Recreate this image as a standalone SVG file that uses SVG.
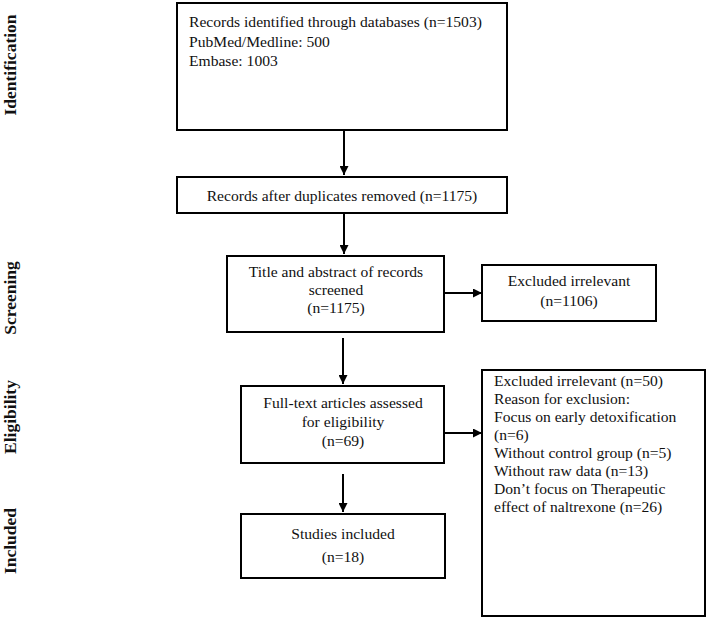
<svg xmlns="http://www.w3.org/2000/svg" width="708" height="642" viewBox="0 0 708 642">
<defs>
<marker id="ah" viewBox="0 0 10 10" refX="10" refY="5" markerWidth="4.5" markerHeight="4.5" markerUnits="strokeWidth" orient="auto">
<path d="M0,0 L10,5 L0,10 z" fill="#000"/>
</marker>
<style>
.box{fill:#fff;stroke:#000;stroke-width:2}
.t{font-family:"Liberation Serif","Times New Roman",serif;font-size:15.6px;fill:#111}
.c{text-anchor:middle}
.side{font-family:"Liberation Serif","Times New Roman",serif;font-size:17.5px;font-weight:bold;fill:#111;text-anchor:middle}
.con{stroke:#000;stroke-width:2;fill:none;marker-end:url(#ah)}
</style>
</defs>
<rect width="708" height="642" fill="#fff"/>
<g id="labels">
<text class="side" transform="translate(16,65) rotate(-90)">Identification</text>
<text class="side" transform="translate(16,298) rotate(-90)">Screening</text>
<text class="side" transform="translate(16,417) rotate(-90)">Eligibility</text>
<text class="side" transform="translate(16,541) rotate(-90)">Included</text>
</g>
<g id="connectors">
<line class="con" x1="344" y1="131" x2="344" y2="175"/>
<line class="con" x1="344" y1="214" x2="344" y2="254"/>
<line class="con" x1="444" y1="293" x2="482" y2="293"/>
<line class="con" x1="343" y1="338" x2="343" y2="384"/>
<line class="con" x1="445" y1="433" x2="482" y2="433"/>
<line class="con" x1="343" y1="474" x2="343" y2="512"/>
</g>
<g id="n1">
<rect class="box" x="177" y="3" width="330" height="127"/>
<text class="t" x="189" y="27">Records identified through databases (n=1503)</text>
<text class="t" x="189" y="46.5">PubMed/Medline: 500</text>
<text class="t" x="189" y="66">Embase: 1003</text>
</g>
<g id="n2">
<rect class="box" x="177" y="177" width="330" height="36"/>
<text class="t c" x="342" y="200.5">Records after duplicates removed (n=1175)</text>
</g>
<g id="n3">
<rect class="box" x="227" y="256" width="217" height="76"/>
<text class="t c" x="336" y="277">Title and abstract of records</text>
<text class="t c" x="336" y="295">screened</text>
<text class="t c" x="336" y="313">(n=1175)</text>
</g>
<g id="n4">
<rect class="box" x="482" y="265" width="174" height="56"/>
<text class="t c" x="569" y="286">Excluded irrelevant</text>
<text class="t c" x="569" y="306">(n=1106)</text>
</g>
<g id="n5">
<rect class="box" x="241" y="386" width="203" height="77"/>
<text class="t c" x="343" y="408">Full-text articles assessed</text>
<text class="t c" x="343" y="427">for eligibility</text>
<text class="t c" x="343" y="446">(n=69)</text>
</g>
<g id="n6">
<rect class="box" x="482" y="370" width="223" height="246"/>
<text class="t" x="494" y="386">Excluded irrelevant (n=50)</text>
<text class="t" x="494" y="404">Reason for exclusion:</text>
<text class="t" x="494" y="422">Focus on early detoxification</text>
<text class="t" x="494" y="440">(n=6)</text>
<text class="t" x="494" y="458">Without control group (n=5)</text>
<text class="t" x="494" y="476">Without raw data (n=13)</text>
<text class="t" x="494" y="494">Don’t focus on Therapeutic</text>
<text class="t" x="494" y="512">effect of naltrexone (n=26)</text>
</g>
<g id="n7">
<rect class="box" x="241" y="514" width="204" height="64"/>
<text class="t c" x="343" y="539">Studies included</text>
<text class="t c" x="343" y="562">(n=18)</text>
</g>
</svg>
